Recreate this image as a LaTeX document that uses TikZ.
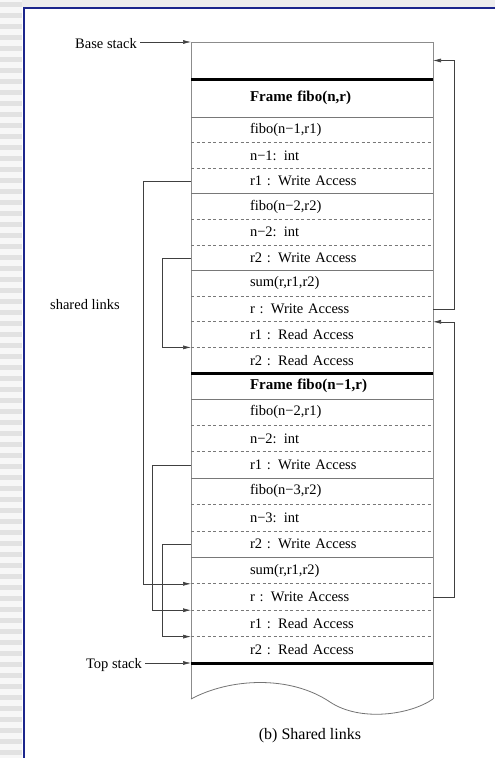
\documentclass[tikz,border=0pt]{standalone}
\usepackage{fontspec}
\setmainfont{Liberation Serif}
\usetikzlibrary{positioning}
\usetikzlibrary{arrows.meta}
\definecolor{c1}{RGB}{28,38,140}
\definecolor{c2}{RGB}{226,226,226}
\definecolor{c3}{RGB}{120,120,120}

\begin{document}
\begin{tikzpicture}[x=1pt,y=-1pt,font=\fontsize{14.5}{16}\selectfont,
    cell/.style={anchor=north west,outer sep=0pt,minimum width=242pt,minimum height=25.6pt,
        text width=124pt,inner xsep=59pt,inner ysep=0pt,align=left},
    cellb/.style={cell,minimum height=26.4pt},
    link/.style={draw=black!75,line width=0.6pt,-{Latex[length=8pt,width=4pt]}},
    sep/.style={draw=c3,line width=0.7pt},
    dsep/.style={sep,dash pattern=on 3pt off 2.5pt},
    thickline/.style={draw=black,line width=3pt}]
    \useasboundingbox (0,0) rectangle (495,758);
    % slide background
    \fill[black!7] (0,0) rectangle (495,7);
    \fill[black!3] (0,0) rectangle (22,758);
    \foreach \y in {2,13,...,758}
        \fill[c2] (0,\y) rectangle (22,\y+5);
    \draw[c1,line width=2.5pt] (24,758) -- (24,8) -- (495,8);

    % the stack, cell by cell
    \node[cell,minimum height=37pt] (base) at (191,42) {};
    \node[cell,minimum height=38pt,below=0pt of base] (fa) {\mbox{\bfseries\fontsize{15}{16}\selectfont Frame fibo(n,r)}};
    \node[cell,below=0pt of fa] (a1) {fibo(n−1,r1)};
    \node[cell,below=0pt of a1] (a2) {n−1: int};
    \node[cell,below=0pt of a2] (a3) {r1 : Write Access};
    \node[cell,below=0pt of a3] (a4) {fibo(n−2,r2)};
    \node[cell,below=0pt of a4] (a5) {n−2: int};
    \node[cell,below=0pt of a5] (a6) {r2 : Write Access};
    \node[cell,below=0pt of a6] (a7) {sum(r,r1,r2)};
    \node[cell,below=0pt of a7] (a8) {r : Write Access};
    \node[cell,below=0pt of a8] (a9) {r1 : Read Access};
    \node[cell,below=0pt of a9] (a10) {r2 : Read Access};
    \node[cell,minimum height=26pt,below=0pt of a10] (fb) {\mbox{\bfseries\fontsize{15}{16}\selectfont Frame fibo(n−1,r)}};
    \node[cellb,below=0pt of fb] (b1) {fibo(n−2,r1)};
    \node[cellb,below=0pt of b1] (b2) {n−2: int};
    \node[cellb,below=0pt of b2] (b3) {r1 : Write Access};
    \node[cellb,below=0pt of b3] (b4) {fibo(n−3,r2)};
    \node[cellb,below=0pt of b4] (b5) {n−3: int};
    \node[cellb,below=0pt of b5] (b6) {r2 : Write Access};
    \node[cellb,below=0pt of b6] (b7) {sum(r,r1,r2)};
    \node[cellb,below=0pt of b7] (b8) {r : Write Access};
    \node[cellb,below=0pt of b8] (b9) {r1 : Read Access};
    \node[cellb,below=0pt of b9] (b10) {r2 : Read Access};
    \node[cell,minimum height=36pt,below=0pt of b10] (tail) {};

    % outline with the torn bottom
    \draw[draw=black!45,line width=1pt] (tail.south west) -- (base.north west) -- (base.north east) -- (tail.south east);
    \draw[draw=black!55,line width=0.8pt] (tail.south west) .. controls (230,678) and (290,675) .. (330,702)
        .. controls (360,722) and (410,715) .. (tail.south east);

    % separators: thick between frames, solid between calls, dashed inside
    \foreach \c in {base,a10,b10}
        \draw[thickline] (\c.south west) -- (\c.south east);
    \foreach \c in {fa,a3,a6,fb,b3,b6}
        \draw[sep] (\c.south west) -- (\c.south east);
    \foreach \c in {a1,a2,a4,a5,a7,a8,a9,b1,b2,b4,b5,b7,b8,b9}
        \draw[dsep] (\c.south west) -- (\c.south east);

    % labels
    \node (basestack) at (106,44) {Base stack};
    \node (topstack) at (114,665) {Top stack};
    \node (shared) at (85,305) {shared links};
    \node[font=\fontsize{16}{18}\selectfont] (caption) at (310,736) {(b) Shared links};
    \draw[link] (basestack.east |- base.north west) -- (base.north west);
    \draw[link] (topstack.east |- b10.south west) -- (b10.south west);

    % result links on the right
    \draw[link] (a8.east) -- ++(21,0) |- (base.east);
    \draw[link] (b8.east) -- ++(21,0) |- (a8.south east);
    % shared links on the left
    \draw[link] (a3.west) -- ++(-48,0) |- (b8.north west);
    \draw[link] (a6.west) -- ++(-29,0) |- (a9.south west);
    \draw[link] (b3.west) -- ++(-39,0) |- (b8.south west);
    \draw[link] (b6.west) -- ++(-29,0) |- (b9.south west);
\end{tikzpicture}
\end{document}
